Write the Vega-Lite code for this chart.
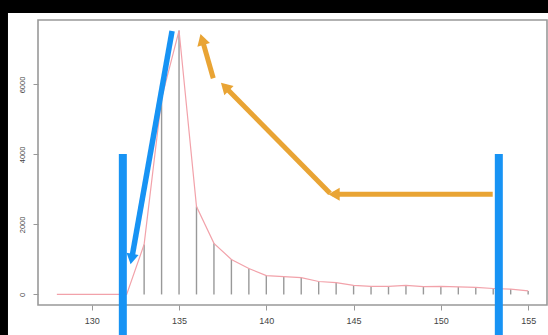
{
  "$schema": "https://vega.github.io/schema/vega-lite/v6.json",
  "width": 509,
  "height": 285,
  "autosize": {"type": "none"},
  "padding": {"left": 38, "top": 20, "right": 1, "bottom": 30},
  "background": "#ffffff",
  "config": {
    "view": {"stroke": "#999999", "strokeWidth": 1.6},
    "font": "Liberation Sans"
  },
  "datasets": {
    "bands": [
      {"x": 120, "x2": 160, "y": 8041.6, "y2": 9000},
      {"x": 120, "x2": 125.2, "y": -2000, "y2": 9000}
    ],
    "counts": [
      {"x": 128, "n": 0}, {"x": 129, "n": 0}, {"x": 130, "n": 0}, {"x": 131, "n": 0},
      {"x": 132, "n": 0}, {"x": 133, "n": 1430}, {"x": 134, "n": 5600}, {"x": 135, "n": 7540},
      {"x": 136, "n": 2510}, {"x": 137, "n": 1460}, {"x": 138, "n": 1000}, {"x": 139, "n": 740},
      {"x": 140, "n": 540}, {"x": 141, "n": 510}, {"x": 142, "n": 480}, {"x": 143, "n": 370},
      {"x": 144, "n": 340}, {"x": 145, "n": 260}, {"x": 146, "n": 230}, {"x": 147, "n": 230},
      {"x": 148, "n": 260}, {"x": 149, "n": 225}, {"x": 150, "n": 230}, {"x": 151, "n": 215},
      {"x": 152, "n": 200}, {"x": 153, "n": 170}, {"x": 154, "n": 150}, {"x": 155, "n": 100}
    ],
    "blueBars": [
      {"x": 131.78, "y": 4013, "y2": -1300},
      {"x": 153.32, "y": 4013, "y2": -1300}
    ],
    "blueDiag": [
      {"x": 134.6, "y": 7527, "x2": 132.3, "y2": 1050}
    ],
    "blueHead": [
      {"x": 132.28, "y": 1010}
    ],
    "orangeLines": [
      {"x": 152.97, "y": 2862, "x2": 143.8, "y2": 2862},
      {"x": 143.65, "y": 2891, "x2": 137.6, "y2": 5950},
      {"x": 136.96, "y": 6176, "x2": 136.33, "y2": 7280}
    ],
    "orangeHeads": [
      {"x": 143.88, "y": 2862, "a": 270},
      {"x": 137.63, "y": 5936, "a": 315},
      {"x": 136.32, "y": 7287, "a": 343.7}
    ]
  },
  "layer": [
    {
      "data": {"name": "counts"},
      "mark": {"type": "rule", "color": "#999999", "strokeWidth": 1.4},
      "encoding": {
        "x": {"field": "x", "type": "quantitative", "title": null, "scale": {"domain": [126.92, 156.08], "nice": false, "zero": false},
              "axis": {"values": [130, 135, 140, 145, 150, 155], "format": "d", "labelFontSize": 9, "labelColor": "#444444", "tickColor": "#999999", "tickSize": 5, "tickWidth": 1, "domain": false, "grid": false, "labelPadding": 6}},
        "y": {"field": "n", "type": "quantitative", "title": null, "scale": {"domain": [-301.6, 7841.6], "nice": false, "zero": false},
              "axis": {"values": [0, 2000, 4000, 6000], "format": "d", "labelFontSize": 7.5, "labelColor": "#444444", "tickColor": "#999999", "tickSize": 5, "tickWidth": 1, "domain": false, "grid": false, "labelAngle": 270, "labelAlign": "center", "labelBaseline": "bottom", "labelPadding": 7}},
        "y2": {"datum": 0}
      }
    },
    {
      "data": {"name": "counts"},
      "mark": {"type": "line", "color": "#f2a2aa", "strokeWidth": 1.2},
      "encoding": {
        "x": {"field": "x", "type": "quantitative", "title": null},
        "y": {"field": "n", "type": "quantitative", "title": null}
      }
    },
    {
      "data": {"name": "bands"},
      "mark": {"type": "rect", "fill": "#000000", "clip": false},
      "encoding": {
        "x": {"field": "x", "type": "quantitative", "title": null},
        "x2": {"field": "x2"},
        "y": {"field": "y", "type": "quantitative", "title": null},
        "y2": {"field": "y2"}
      }
    },
    {
      "data": {"name": "blueBars"},
      "mark": {"type": "rule", "color": "#1793f4", "strokeWidth": 8, "clip": false},
      "encoding": {
        "x": {"field": "x", "type": "quantitative", "title": null},
        "y": {"field": "y", "type": "quantitative", "title": null},
        "y2": {"field": "y2"}
      }
    },
    {
      "data": {"name": "blueDiag"},
      "mark": {"type": "rule", "color": "#1793f4", "strokeWidth": 5.5},
      "encoding": {
        "x": {"field": "x", "type": "quantitative", "title": null},
        "y": {"field": "y", "type": "quantitative", "title": null},
        "x2": {"field": "x2"},
        "y2": {"field": "y2"}
      }
    },
    {
      "data": {"name": "blueHead"},
      "mark": {"type": "point", "shape": "triangle-up", "filled": true, "color": "#1793f4", "opacity": 1, "size": 150, "angle": 190.6},
      "encoding": {
        "x": {"field": "x", "type": "quantitative", "title": null},
        "y": {"field": "y", "type": "quantitative", "title": null}
      }
    },
    {
      "data": {"name": "orangeLines"},
      "mark": {"type": "rule", "color": "#e9a434", "strokeWidth": 5},
      "encoding": {
        "x": {"field": "x", "type": "quantitative", "title": null},
        "y": {"field": "y", "type": "quantitative", "title": null},
        "x2": {"field": "x2"},
        "y2": {"field": "y2"}
      }
    },
    {
      "data": {"name": "orangeHeads"},
      "mark": {"type": "point", "shape": "triangle-up", "filled": true, "color": "#e9a434", "opacity": 1, "size": 170},
      "encoding": {
        "x": {"field": "x", "type": "quantitative", "title": null},
        "y": {"field": "y", "type": "quantitative", "title": null},
        "angle": {"field": "a", "type": "quantitative", "scale": null}
      }
    }
  ]
}
